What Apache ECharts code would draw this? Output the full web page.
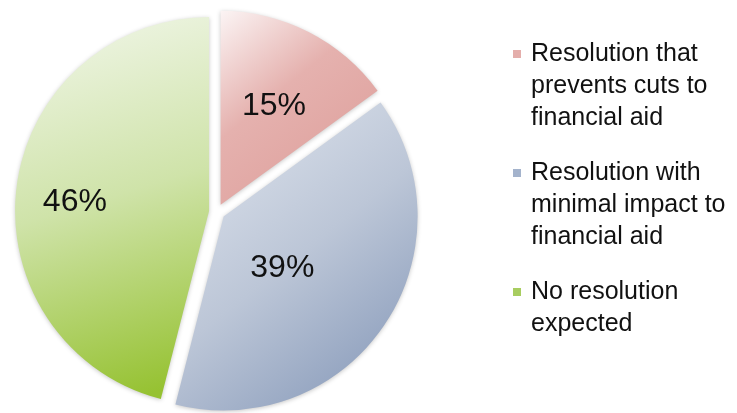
<!DOCTYPE html>
<html>
<head>
<meta charset="utf-8">
<script src="https://cdn.jsdelivr.net/npm/echarts@6/dist/echarts.min.js"></script>
<style>
  html, body { margin: 0; padding: 0; background: #ffffff; }
  #chart { width: 737px; height: 413px; }
</style>
</head>
<body>
<div id="chart"></div>
<script>
// Expected outcome shares (percent)
const categories = [
  'Resolution that\nprevents cuts to\nfinancial aid',
  'Resolution with\nminimal impact to\nfinancial aid',
  'No resolution\nexpected'
];
const shares = [15, 39, 46];

// Slice gradients: light at top-left, deeper toward bottom-right
const gradients = [
  [[0, '#fbf4f4'], [0.4, '#e5b1ae'], [1, '#dc9b97']],
  [[0, '#e3e8f0'], [0.5, '#bcc6d7'], [1, '#7f93b5']],
  [[0, '#f2f7eb'], [0.5, '#cfe3a9'], [1, '#96c232']]
];
const legendSwatch = ['#e4aeab', '#a4b3cc', '#a8cd60'];

const chart = echarts.init(document.getElementById('chart'));

function fillFor(i, x2, y2) {
  return new echarts.graphic.LinearGradient(0, 0, x2, y2,
    gradients[i].map(s => ({ offset: s[0], color: s[1] })));
}

const gradDir = [[1, 1], [1, 1], [0.6, 1]];
const labelShift = [[8, -10], [-24, -5], [-35, 4]];

const data = shares.map((v, i) => ({
  name: categories[i],
  value: v,
  selected: true,
  itemStyle: { color: fillFor(i, gradDir[i][0], gradDir[i][1]) }
}));

// Legend text: swatch on the first line, later lines indented to match
function legendText(name) {
  const i = categories.indexOf(name);
  const lines = name.split('\n');
  return lines.map((l, k) => k === 0
    ? '{sq' + i + '|}{t|' + l + '}'
    : '{ind|' + l + '}').join('\n');
}

const rich = {
  t: { fontSize: 25, fontFamily: 'Liberation Sans', color: '#111', lineHeight: 32, padding: [0, 0, 0, 10] },
  ind: { fontSize: 25, fontFamily: 'Liberation Sans', color: '#111', lineHeight: 32, padding: [0, 0, 0, 18] }
};
legendSwatch.forEach((c, i) => {
  rich['sq' + i] = { width: 8, height: 8, backgroundColor: c };
});

chart.setOption({
  animation: false,
  backgroundColor: '#ffffff',
  legend: {
    orient: 'vertical',
    left: 503,
    top: 33,
    icon: 'none',
    itemWidth: 0,
    itemHeight: 8,
    itemGap: 23,
    selectedMode: false,
    formatter: legendText,
    textStyle: { rich: rich, fontSize: 25, lineHeight: 32 },
    data: categories
  },
  series: [{
    type: 'pie',
    center: [217, 212],
    radius: 194,
    startAngle: 90,
    clockwise: true,
    selectedMode: 'multiple',
    selectedOffset: 8,
    avoidLabelOverlap: false,
    itemStyle: {
      shadowBlur: 4,
      shadowColor: 'rgba(0,0,0,0.22)',
      shadowOffsetY: 1
    },
    label: {
      show: true,
      position: 'inside',
      formatter: '{c}%',
      fontSize: 32,
      fontFamily: 'Liberation Sans',
      color: '#111'
    },
    labelLine: { show: false },
    labelLayout: function (p) {
      const s = labelShift[p.dataIndex];
      return { dx: s[0], dy: s[1] };
    },
    emphasis: { disabled: true },
    data: data
  }]
});
</script>
</body>
</html>
